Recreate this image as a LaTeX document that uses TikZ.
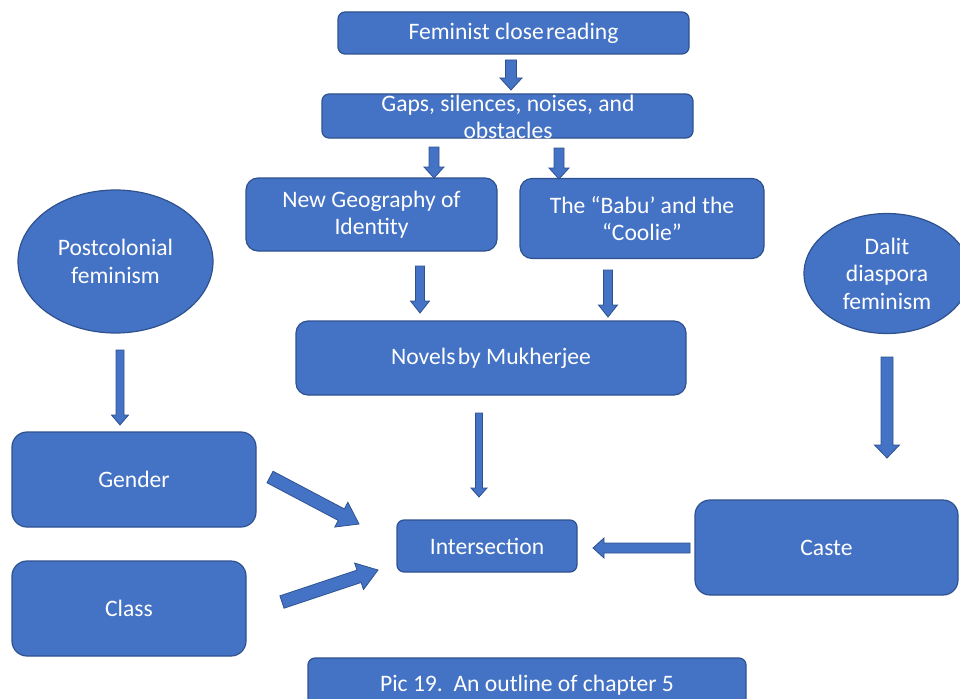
\documentclass[tikz,border=0pt]{standalone}
\usepackage{fontspec}
\setmainfont{Carlito}
\usetikzlibrary{calc,shapes.geometric}

\definecolor{boxfill}{HTML}{4472C4}
\definecolor{boxline}{HTML}{2F528F}

% block arrow from #1 to #2: shaft half width #3, head half width #4, head length #5
\newcommand\blockarrow[5]{%
  \coordinate (ba-h) at ($(#2)!#5!(#1)$);
  \filldraw[arrowshape]
    ($(#1)!#3!90:(#2)$) -- ($(ba-h)!#3!90:(#2)$) -- ($(ba-h)!#4!90:(#2)$) --
    (#2) --
    ($(ba-h)!#4!-90:(#2)$) -- ($(ba-h)!#3!-90:(#2)$) -- ($(#1)!#3!-90:(#2)$) -- cycle;
}

\tikzset{
  box/.style={draw=boxline, fill=boxfill, line width=1.2pt, rounded corners=12pt,
    inner sep=0pt, text=white, align=center},
  smallbox/.style={box, rounded corners=7pt},
  oval/.style={draw=boxline, fill=boxfill, line width=1.2pt, ellipse, inner sep=0pt,
    text=white, align=center},
  label/.style={text=white, align=center, inner sep=0pt},
  arrowshape/.style={draw=boxline, fill=boxfill, line width=0.8pt, line join=miter},
}

\begin{document}
\begin{tikzpicture}[x=1pt, y=-1pt, font=\fontsize{23.6}{27.5}\selectfont]
\useasboundingbox (0,0) rectangle (960,698);
\clip (0,0) rectangle (960,698);

% boxes of the reading chain
\node[smallbox, minimum width=351pt, minimum height=42pt] (fcr) at (513.5,33)
  {Feminist close\hspace{0.1em}reading};
\node[smallbox, minimum width=371pt, minimum height=44pt] (gaps) at (507.5,116) {};
\node[label] (gapsText) at (508,117) {Gaps, silences, noises, and\\obstacles};
\node[box, minimum width=251pt, minimum height=73pt] (geo) at (371.5,214.5)
  {New Geography of\\Identity};
\node[box, minimum width=244pt, minimum height=80pt] (babu) at (642,218.5)
  {The “Babu’ and the\\“Coolie”};
\node[box, minimum width=390pt, minimum height=74pt] (novels) at (491,358)
  {Novels\hspace{0.1em}by Mukherjee};

% theoretical frames
\node[oval, minimum width=195pt, minimum height=143pt] (post) at (115.5,261.5)
  {Postcolonial\\feminism};
\node[oval, minimum width=166pt, minimum height=120pt] (dalit) at (887,273.5)
  {Dalit\\diaspora\\feminism};

% categories and their meeting point
\node[box, minimum width=244pt, minimum height=95pt, rounded corners=15pt] (gender) at (134,479.5) {Gender};
\node[box, minimum width=234pt, minimum height=95pt, rounded corners=15pt] (class) at (129,608.5) {Class};
\node[box, minimum width=263pt, minimum height=95pt, rounded corners=15pt] (caste) at (826.5,547.5) {Caste};
\node[smallbox, minimum width=180pt, minimum height=52pt] (inter) at (487,546) {Intersection};

% caption
\node[smallbox, minimum width=438pt, minimum height=54pt] (caption) at (527,685)
  {Pic 19.\ \ An outline of chapter 5};

% arrow end points
\coordinate (a1s) at (511,60);  \coordinate (a1e) at (511,90);
\coordinate (a2s) at (434,147); \coordinate (a2e) at (434,178);
\coordinate (a3s) at (559,148); \coordinate (a3e) at (559,179);
\coordinate (a4s) at (420,266); \coordinate (a4e) at (420,313);
\coordinate (a5s) at (608,270); \coordinate (a5e) at (608,317);
\coordinate (a6s) at (479,413); \coordinate (a6e) at (479,497);
\coordinate (a7s) at (120,350); \coordinate (a7e) at (120,425);
\coordinate (a8s) at (887,357); \coordinate (a8e) at (887,458);
\coordinate (a9s) at (270,477); \coordinate (a9e) at (359,524);
\coordinate (a10s) at (282,602); \coordinate (a10e) at (378,570);
\coordinate (a11s) at (690,548); \coordinate (a11e) at (593,548);

\blockarrow{a1s}{a1e}{5.5pt}{11pt}{12pt}
\blockarrow{a2s}{a2e}{5pt}{10pt}{11pt}
\blockarrow{a3s}{a3e}{5pt}{10pt}{11pt}
\blockarrow{a4s}{a4e}{4.5pt}{9.5pt}{12pt}
\blockarrow{a5s}{a5e}{4.5pt}{9.5pt}{12pt}
\blockarrow{a6s}{a6e}{3.5pt}{8pt}{9pt}
\blockarrow{a7s}{a7e}{4pt}{8.5pt}{10pt}
\blockarrow{a8s}{a8e}{6pt}{12.5pt}{13pt}
\blockarrow{a9s}{a9e}{6.5pt}{14pt}{20pt}
\blockarrow{a10s}{a10e}{6.5pt}{14pt}{20pt}
\blockarrow{a11s}{a11e}{5pt}{10pt}{11pt}
\end{tikzpicture}
\end{document}
